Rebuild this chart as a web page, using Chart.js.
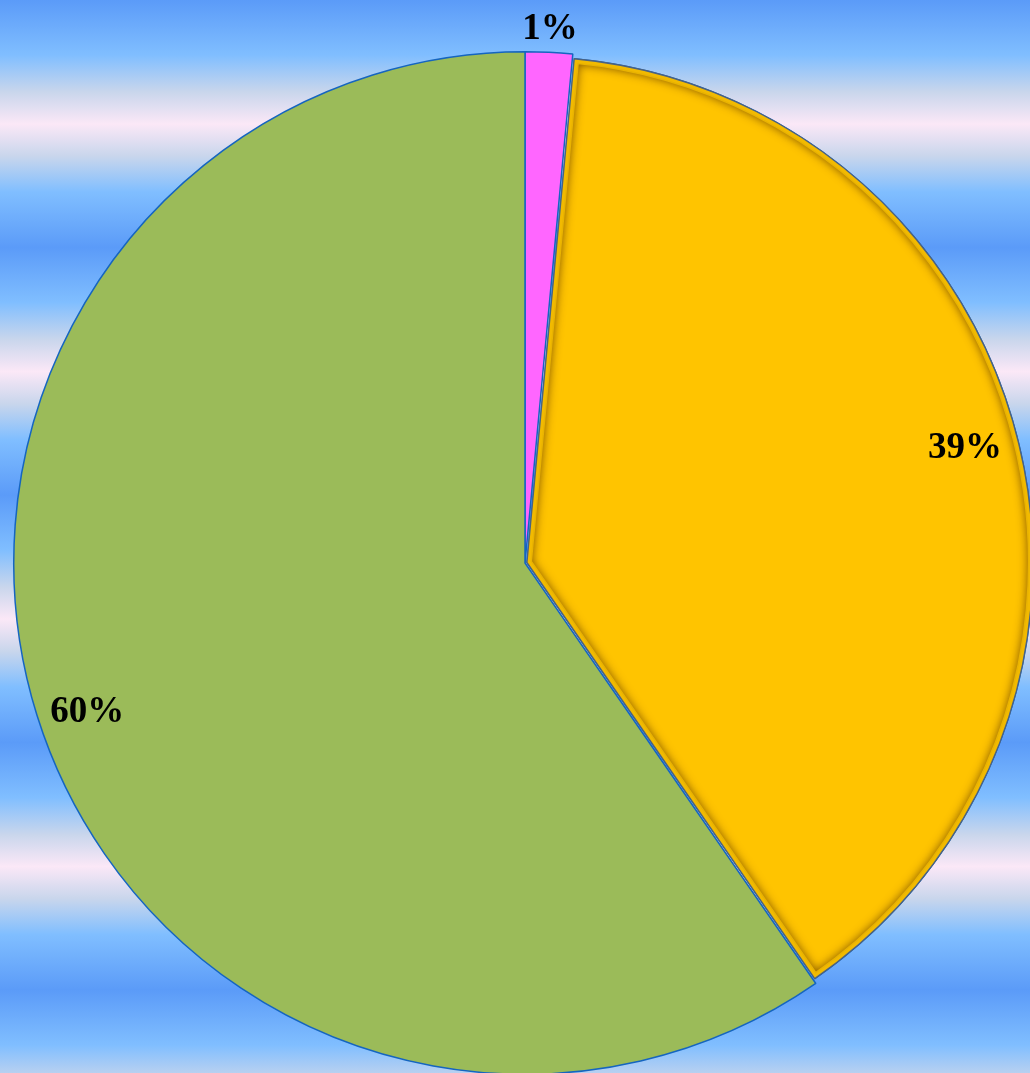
<!doctype html>
<html lang="en">
<head>
  <meta charset="utf-8">
  <title>Pie chart</title>
  <script src="https://cdn.jsdelivr.net/npm/chart.js"></script>
  <style>
    html, body {
      margin: 0;
      width: 1030px;
      height: 1073px;
      overflow: hidden;
      /* striped blue / pink-white backdrop */
      background: repeating-linear-gradient(to bottom,
        #5b9bf8 0px, #80beff 55px, #c9d6ec 92px, #fbe8f7 124px,
        #c9d6ec 156px, #80beff 192px, #5b9bf8 247.5px);
    }
    #wrap {
      position: absolute;
      left: 0;
      top: 0;
      width: 1041px;
      height: 1079px;
    }
  </style>
</head>
<body>
  <div id="wrap"><canvas id="pieChart" role="img" aria-label="Pie chart: 1%, 39%, 60%"></canvas></div>

  <script>
    // === DATA ===
    const categories = ["Pink", "Yellow", "Green"];
    const shares = [1.49, 38.88, 59.63];
    const sliceColors = ["#ff66ff", "#ffc400", "#9bbb59"];
    const explode = [0, 8, 0];

    const total = shares.reduce((a, b) => a + b, 0);
    const labelText = shares.map(v => Math.round(v / total * 100) + "%");

    // shrink the exploded slice a little, like the original
    const shrinkExploded = {
      id: "shrinkExploded",
      afterDatasetUpdate(chart) {
        const arc = chart.getDatasetMeta(0).data[1];
        arc.outerRadius -= 6;
      }
    };

    // gold bevel on the exploded slice
    const bevel = {
      id: "bevel",
      afterDatasetsDraw(chart) {
        const ctx = chart.ctx;
        const arc = chart.getDatasetMeta(0).data[1];
        const off = explode[1] / 4;
        const mid = (arc.startAngle + arc.endAngle) / 2;
        const fix = 1 - Math.sin(Math.min(Math.PI, arc.circumference));
        const R = arc.outerRadius + off * fix;

        ctx.save();
        ctx.translate(Math.cos(mid) * off, Math.sin(mid) * off);
        ctx.beginPath();
        ctx.moveTo(arc.x, arc.y);
        ctx.arc(arc.x, arc.y, R, arc.startAngle, arc.endAngle);
        ctx.closePath();

        ctx.save();
        ctx.clip();
        // soft dark shade inside the frame
        ctx.shadowColor = "rgba(120, 75, 0, 0.9)";
        ctx.shadowBlur = 10;
        ctx.lineWidth = 10;
        ctx.strokeStyle = "#e9b300";
        ctx.stroke();
        ctx.shadowBlur = 0;
        ctx.lineWidth = 7;
        ctx.strokeStyle = "#f2ba00";
        ctx.stroke();
        ctx.restore();

        ctx.lineWidth = 1.3;
        ctx.strokeStyle = "#4a6282";
        ctx.stroke();
        ctx.restore();
      }
    };

    // percentage labels
    const sliceLabels = {
      id: "sliceLabels",
      afterDatasetsDraw(chart) {
        const ctx = chart.ctx;
        const along = [0.5, 0.5, 0.493];
        const radial = [1.045, 0.89, 0.905];
        ctx.save();
        ctx.font = "bold 37px 'Liberation Serif', 'Times New Roman', serif";
        ctx.fillStyle = "#000";
        ctx.textAlign = "center";
        ctx.textBaseline = "middle";
        chart.getDatasetMeta(0).data.forEach((arc, i) => {
          const a = arc.startAngle + (arc.endAngle - arc.startAngle) * along[i];
          const r = 511 * radial[i];
          ctx.fillText(labelText[i], arc.x + Math.cos(a) * r, arc.y + Math.sin(a) * r);
        });
        ctx.restore();
      }
    };

    new Chart(document.getElementById("pieChart"), {
      type: "pie",
      data: {
        labels: categories,
        datasets: [{
          data: shares,
          backgroundColor: sliceColors,
          borderColor: "#1565c0",
          borderWidth: 1.5,
          offset: explode,
          hoverOffset: 0
        }]
      },
      options: {
        responsive: true,
        maintainAspectRatio: false,
        animation: false,
        events: [],
        layout: { padding: { left: 9, top: 47, right: 0, bottom: 0 } },
        plugins: {
          legend: { display: false },
          tooltip: { enabled: false }
        }
      },
      plugins: [shrinkExploded, bevel, sliceLabels]
    });
  </script>
</body>
</html>
